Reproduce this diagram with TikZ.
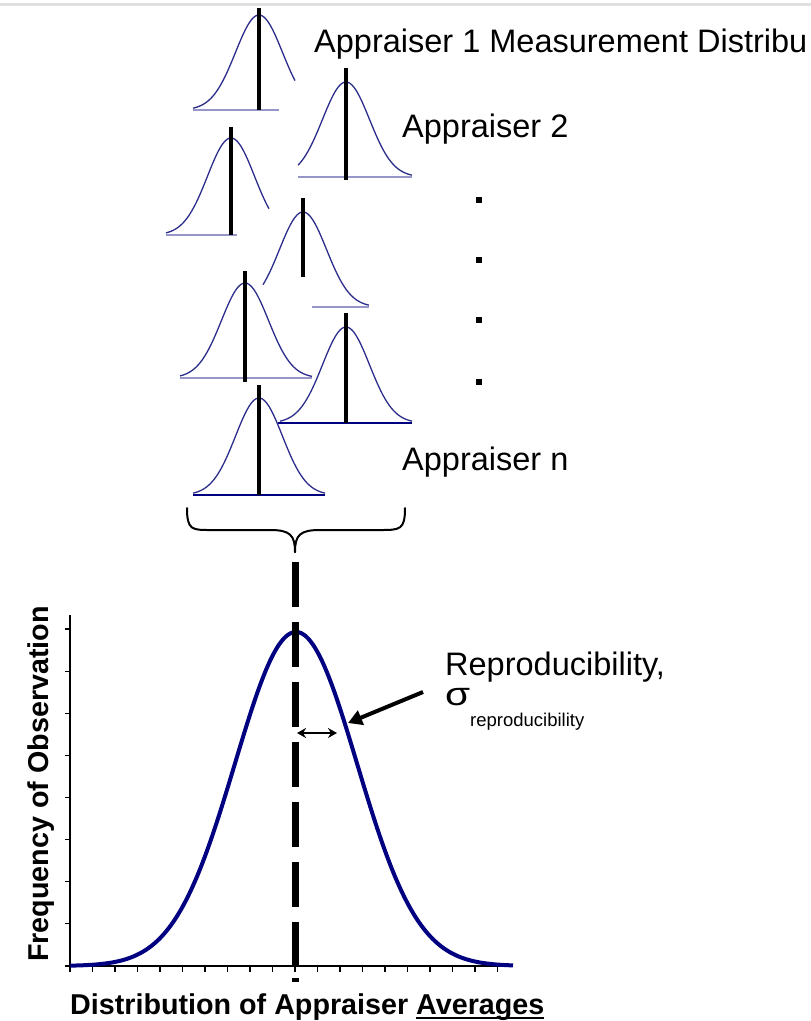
\documentclass[tikz,border=0pt]{standalone}
\usepackage{fontspec}
\setmainfont{Liberation Sans}
\usetikzlibrary{arrows.meta}
\definecolor{bellblue}{RGB}{45,45,140}
\definecolor{lightbase}{RGB}{150,150,200}
\definecolor{navyc}{RGB}{0,0,128}
\newcommand\bellc[5]{\draw[smallbell] plot[domain=#4:#5,samples=60] (\x,{#2-#3*exp(-0.5*((\x-#1)/23.5)^2)});}
\newcommand\myul[1]{\setbox0=\hbox{#1}\rlap{\vrule width\wd0 height -3pt depth 5pt}\box0}
\tikzset{
  smallbell/.style={bellblue, line width=1.3pt, line join=round},
  lbase/.style={lightbase, line width=1.2pt},
  dbase/.style={navyc, line width=1.4pt},
  bar/.style={black, line width=3.6pt},
  lab/.style={font=\fontsize{32.5}{34}\selectfont, anchor=base west, inner sep=0pt},
  axlab/.style={font=\fontsize{28.7}{30}\selectfont\bfseries, anchor=base west, inner sep=0pt},
  dotsq/.style={fill=black},
}
\begin{document}
\begin{tikzpicture}[x=1pt,y=-1pt]
\useasboundingbox (0,0) rectangle (811,1021);
\draw[gray!25, line width=3pt] (0,4) -- (811,4);
% small bell curves
% 1
\bellc{259}{110}{95}{193}{295}
\draw[lbase] (193,110) -- (279,110);
\draw[bar] (259,8) -- (259,110);
% 2
\bellc{346}{177}{95}{298}{412}
\draw[lbase] (298,177) -- (412,177);
\draw[bar] (346,68) -- (346,180);
% 3
\bellc{231}{235}{97}{166}{269}
\draw[lbase] (166,235) -- (237,235);
\draw[bar] (231,127) -- (231,235);
% 4
\bellc{303}{307}{95}{263}{369}
\draw[lbase] (312,307) -- (369,307);
\draw[bar] (303,198) -- (303,277);
% 5
\bellc{245}{378}{95}{180}{312}
\draw[lbase] (180,378) -- (312,378);
\draw[bar] (245,271) -- (245,382);
% 6
\bellc{346}{423}{96}{280}{412}
\draw[dbase] (278,423) -- (412,423);
\draw[bar] (346,313) -- (346,423);
% 7
\bellc{259}{495}{97}{193}{325}
\draw[dbase] (193,495) -- (325,495);
\draw[bar] (259,385) -- (259,495);
% labels
\node[lab] (a1) at (314,52) {Appraiser 1 Measurement Distribu};
\node[lab] (a2) at (402,137) {Appraiser 2};
\node[lab] (an) at (402,470) {Appraiser n};
\foreach \yy in {200,260,320,382} \fill[dotsq] (476,\yy-3) rectangle (482,\yy+3);
% brace
\draw[line width=2pt, line cap=round] (187,508) .. controls (187,530) and (192,530) .. (210,530) -- (270,530) .. controls (290,530) and (295,535) .. (295,552);
\draw[line width=2pt, line cap=round] (405,508) .. controls (405,530) and (400,530) .. (380,530) -- (320,530) .. controls (300,530) and (295,535) .. (295,552);
% axes
\draw[line width=1.2pt] (70,615) -- (70,966) -- (513,966);
\foreach \k in {0,...,8} \draw[line width=1.2pt] (65,{629+42.125*\k}) -- (70,{629+42.125*\k});
\foreach \k in {0,...,19} \draw[line width=1.2pt] ({70+22.5*\k},966) -- ({70+22.5*\k},972);
% big curve
\draw[navyc, line width=4pt, line join=round] plot[domain=70:513, samples=200] (\x,{966-334*exp(-0.5*((\x-296)/61)^2)});
% dashed center line
\draw[line width=7pt, dash pattern=on 45pt off 15pt] (295.5,562) -- (295.5,968);
\fill (292,978) rectangle (299,982);
% annotations
\node[lab] (rep) at (445,675) {Reproducibility,};
\node[lab] (sig) at (445,705) {\scalebox{1.25}[1]{σ}};
\node[font=\fontsize{18.5}{20}\selectfont, anchor=base west, inner sep=0pt] (sub) at (470,726) {reproducibility};
\coordinate (tail) at (423,692);
\coordinate (tip) at (348,723);
\draw[line width=4pt, -{Triangle[length=14pt,width=15pt]}] (tail) -- (tip);
\coordinate (d1) at (297,733);
\coordinate (d2) at (337,733);
\draw[line width=1.8pt, {Stealth[length=9pt,width=10pt]}-{Stealth[length=9pt,width=10pt]}] (d1) -- (d2);
% axis labels
\node[axlab, rotate=90] (ylab) at (48,962) {Frequency of Observation};
\node[axlab] (xlab) at (70,1014) {Distribution of Appraiser \myul{Averages}};
\end{tikzpicture}
\end{document}
